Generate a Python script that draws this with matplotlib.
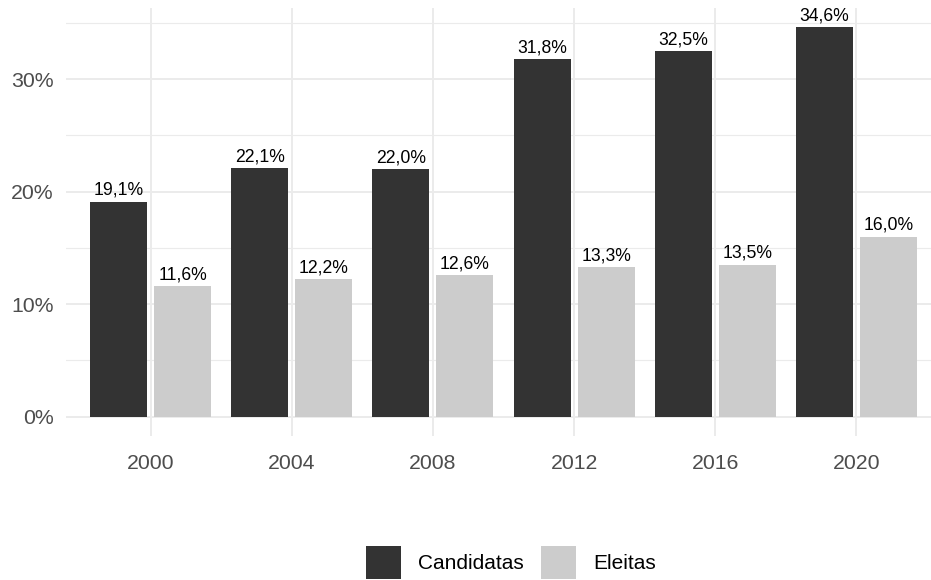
import matplotlib
matplotlib.use("Agg")
import matplotlib.pyplot as plt
import numpy as np
from matplotlib.patches import Patch
from matplotlib.ticker import FuncFormatter, MultipleLocator

plt.rcParams["font.family"] = ["Liberation Sans", "DejaVu Sans"]

# ─── Data ─────────────────────────────────────────────────────────────────────
anos        = ["2000", "2004", "2008", "2012", "2016", "2020"]
candidatas  = [19.1, 22.1, 22.0, 31.8, 32.5, 34.6]
eleitas     = [11.6, 12.2, 12.6, 13.3, 13.5, 16.0]
series      = ["Candidatas", "Eleitas"]
cores       = ["#333333", "#cccccc"]

W, H = 931, 580
fig = plt.figure(figsize=(W / 100, H / 100), dpi=100)
# panel in pixel coords (extends slightly past the right edge, as in ref)
left, right, top, bottom = 66, 941, 8, 436
ax = fig.add_axes([left / W, 1 - bottom / H, (right - left) / W, (bottom - top) / H])

x = np.arange(len(anos))
width, offset = 0.404, 0.227
for vals, cor, sign in zip([candidatas, eleitas], cores, [-1, 1]):
    bars = ax.bar(x + sign * offset, vals, width=width, color=cor, zorder=2)
    for b, v in zip(bars, vals):
        ax.annotate(f"{v:.1f}%".replace(".", ","),
                    (b.get_x() + b.get_width() / 2, v),
                    xytext=(0, 2), textcoords="offset points",
                    ha="center", va="bottom", fontsize=12.7, color="black")

ax.set_xlim(-0.6, len(anos) - 0.4)
ax.set_ylim(-1.73, 36.33)
ax.set_xticks(x)
ax.set_xticklabels(anos)
ax.yaxis.set_major_locator(MultipleLocator(10))
ax.yaxis.set_minor_locator(MultipleLocator(5))
ax.yaxis.set_major_formatter(FuncFormatter(lambda v, _: f"{v:.0f}%"))

ax.grid(True, which="major", color="#ebebeb", linewidth=1.4, zorder=0)
ax.grid(True, which="minor", axis="y", color="#ebebeb", linewidth=0.8, zorder=0)
ax.set_axisbelow(True)
for s in ax.spines.values():
    s.set_visible(False)
ax.tick_params(which="both", length=0, labelsize=15.3, labelcolor="#4d4d4d")
ax.tick_params(axis="x", pad=13)
ax.tick_params(axis="y", pad=9)

handles = [Patch(facecolor=c, label=s) for c, s in zip(cores, series)]
fig.legend(handles=handles, loc="center", ncol=2, frameon=False,
           bbox_to_anchor=(511 / W, 1 - 562.5 / H), fontsize=15,
           handlelength=1.68, handleheight=2.1, handletextpad=0.82,
           columnspacing=0.8, borderaxespad=0, borderpad=0)

fig.savefig("out.png", dpi=100)
